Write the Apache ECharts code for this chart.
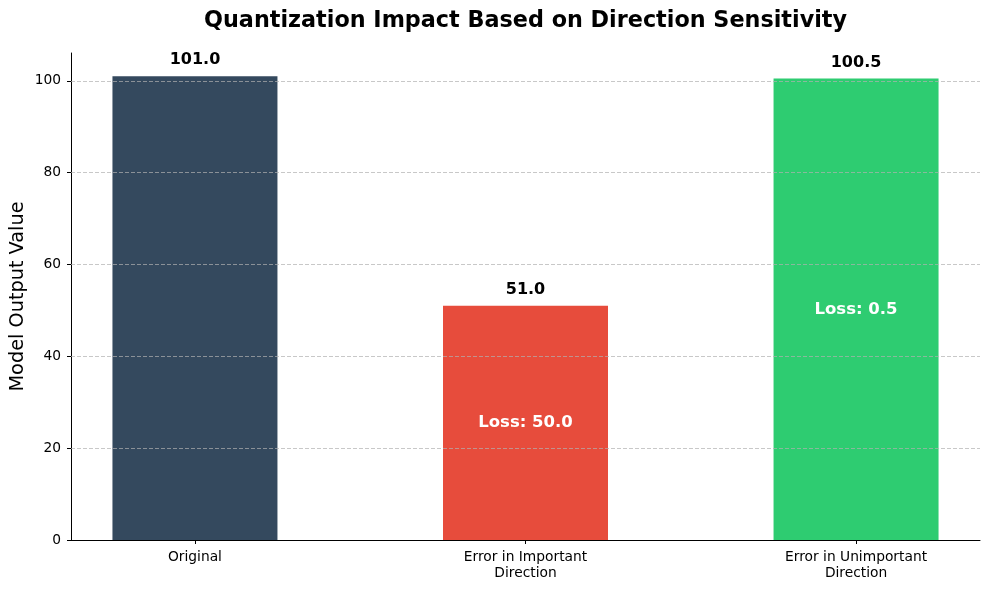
<!DOCTYPE html>
<html>
<head>
<meta charset="utf-8">
<script src="https://cdn.jsdelivr.net/npm/echarts@6/dist/echarts.min.js"></script>
<style>
html,body{margin:0;padding:0;background:#fff;}
#chart{width:989px;height:589px;}
</style>
</head>
<body>
<div id="chart"></div>
<script>
const categories = ['Original', 'Error in Important\nDirection', 'Error in Unimportant\nDirection'];
const values = [101.0, 51.0, 100.5];
const losses = [null, 50.0, 0.5];
const yTicks = [0, 20, 40, 60, 80, 100];
const barColors = ['#34495e', '#e74c3c', '#2ecc71'];

const FONT = 'DejaVu Sans';
const xPositions = categories.map((c, i) => i);

const barData = values.map((v, i) => ({
  value: [i, v],
  itemStyle: { color: barColors[i] }
}));
const lossData = [];
losses.forEach((l, i) => {
  if (l !== null) lossData.push({ value: [i, values[i] / 2], loss: l });
});

const chart = echarts.init(document.getElementById('chart'), null, { renderer: 'canvas' });
chart.setOption({
  animation: false,
  backgroundColor: '#ffffff',
  textStyle: { fontFamily: FONT },
  title: {
    text: 'Quantization Impact Based on Direction Sensitivity',
    left: 520.5,
    textAlign: 'center',
    top: 5,
    textStyle: { fontFamily: FONT, fontWeight: 'bold', fontSize: 22.3, color: '#000' }
  },
  grid: { left: 71, right: 9, top: 53, bottom: 49, containLabel: false, outerBoundsMode: 'none' },
  xAxis: {
    type: 'value',
    min: -0.375,
    max: 2.375,
    splitLine: { show: false },
    axisLine: { show: true, onZero: false, lineStyle: { color: '#000', width: 1 } },
    axisTick: { show: true, length: 4, lineStyle: { color: '#000' }, customValues: xPositions },
    axisLabel: {
      customValues: xPositions,
      formatter: (v) => categories[Math.round(v)] || '',
      fontFamily: FONT, fontSize: 13.8, color: '#000', margin: 10, lineHeight: 15.5
    }
  },
  yAxis: {
    type: 'value',
    min: 0,
    max: 106.05,
    name: 'Model Output Value',
    nameLocation: 'middle',
    nameGap: 44,
    nameMoveOverlap: false,
    nameTextStyle: { fontFamily: FONT, fontSize: 19.3, color: '#000' },
    splitLine: { show: false },
    axisLine: { show: true, onZero: false, lineStyle: { color: '#000', width: 1 } },
    axisTick: { show: true, length: 4, lineStyle: { color: '#000' }, customValues: yTicks },
    axisLabel: {
      customValues: yTicks,
      fontFamily: FONT, fontSize: 13.8, color: '#000', margin: 10
    }
  },
  series: [
    {
      type: 'bar',
      data: barData,
      barWidth: 165,
      z: 2,
      label: {
        show: true,
        position: 'top',
        distance: 8,
        formatter: (p) => p.value[1].toFixed(1),
        fontFamily: FONT, fontWeight: 'bold', fontSize: 16, color: '#000'
      }
    },
    {
      type: 'scatter',
      data: lossData,
      symbolSize: 0,
      z: 5,
      silent: true,
      itemStyle: { opacity: 1 },
      label: {
        show: true,
        position: 'inside',
        opacity: 1,
        formatter: (p) => 'Loss: ' + p.data.loss.toFixed(1),
        fontFamily: FONT, fontWeight: 'bold', fontSize: 16.5, color: '#ffffff'
      },
      markLine: {
        silent: true,
        symbol: 'none',
        label: { show: false },
        lineStyle: { type: [4, 2], color: 'rgba(176,176,176,0.7)', width: 1 },
        data: yTicks.filter(t => t > 0).map(t => ({ yAxis: t }))
      }
    }
  ]
});
</script>
</body>
</html>
